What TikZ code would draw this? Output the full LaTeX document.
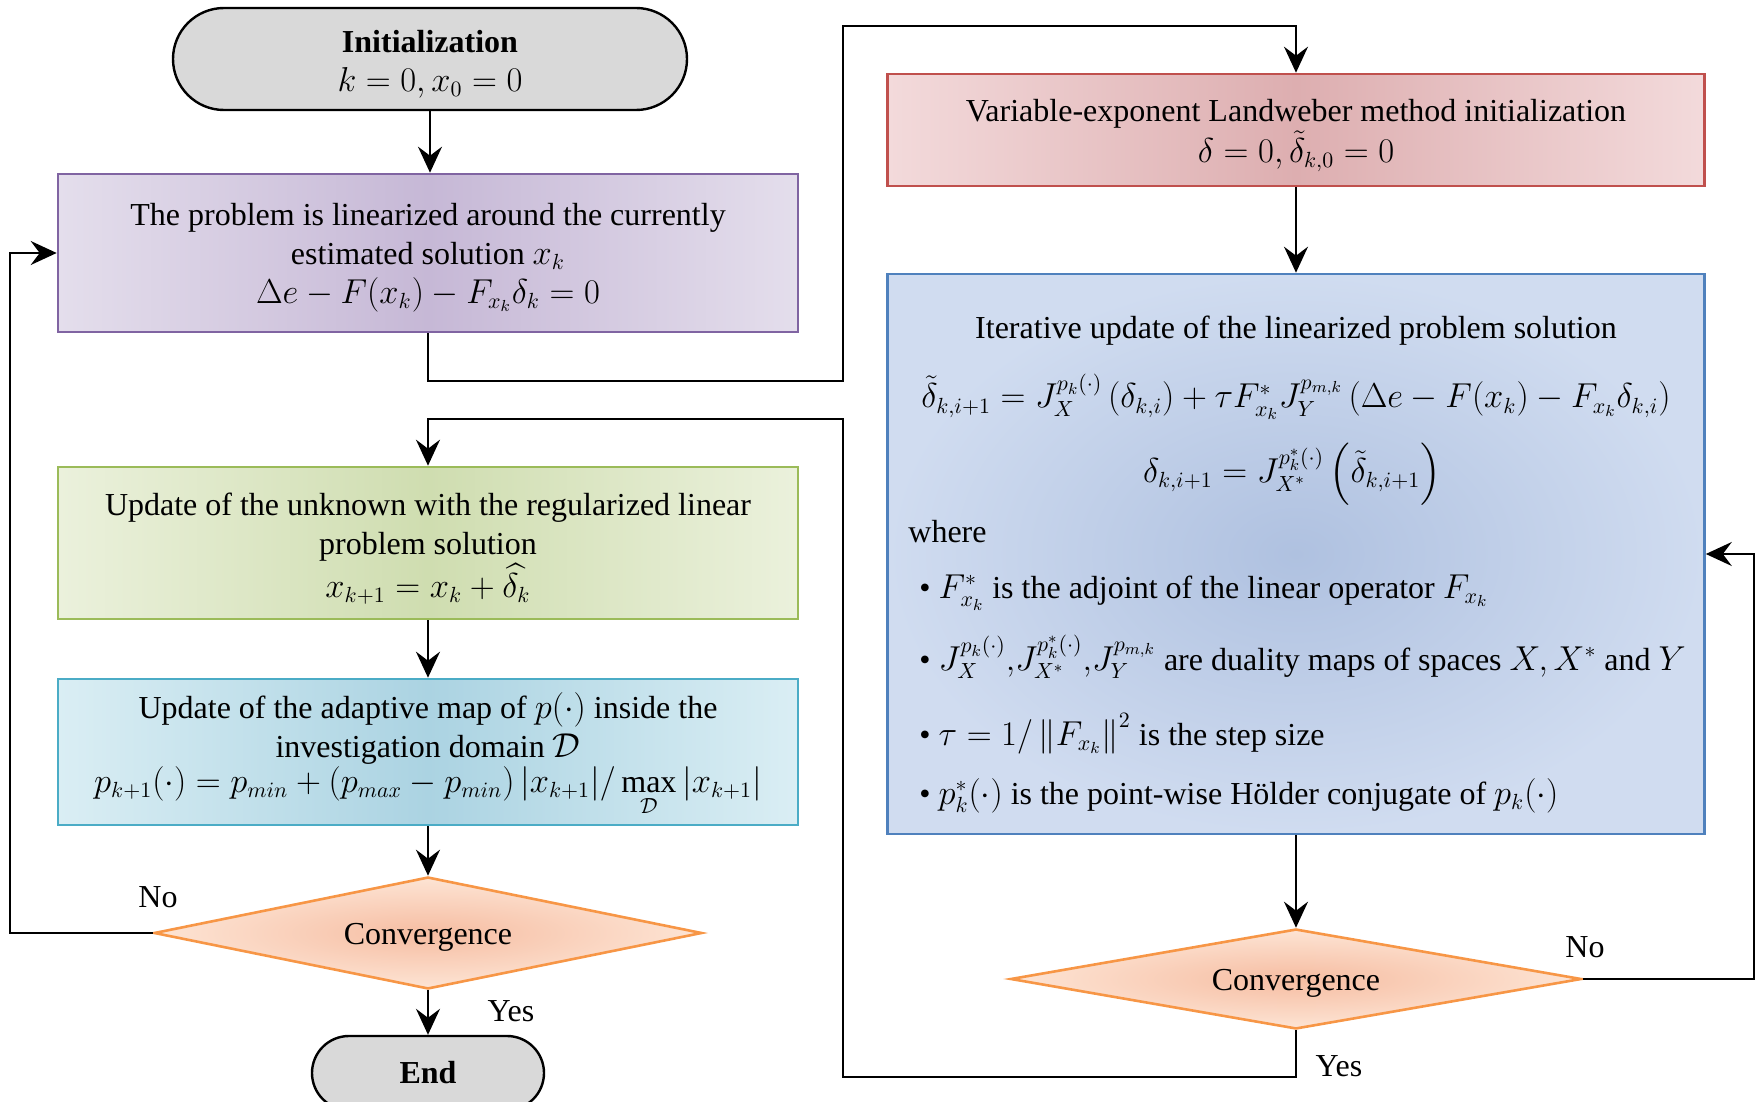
\documentclass[tikz,border=0pt]{standalone}
\usepackage{amsmath}
\usepackage{fontspec}
\setmainfont{Liberation Serif}
\usetikzlibrary{shapes.geometric,shapes.misc,arrows.meta}
\definecolor{purpD}{HTML}{8064A2}\definecolor{purpC}{HTML}{C6B8D6}\definecolor{purpE}{HTML}{E4DEEC}
\definecolor{grnD}{HTML}{9BBB59}\definecolor{grnC}{HTML}{CFDDB0}\definecolor{grnE}{HTML}{EBF1DC}
\definecolor{cyD}{HTML}{4BACC6}\definecolor{cyC}{HTML}{ABD3E2}\definecolor{cyE}{HTML}{DAEEF4}
\definecolor{redD}{HTML}{C0504D}\definecolor{redC}{HTML}{DDAEB0}\definecolor{redE}{HTML}{F3DADB}
\definecolor{bluD}{HTML}{4F81BD}\definecolor{bluC}{HTML}{AFC1E0}\definecolor{bluE}{HTML}{D0DCF0}
\definecolor{orD}{HTML}{F79646}\definecolor{orC}{HTML}{F6BDA2}\definecolor{orE}{HTML}{FDE4D4}
\definecolor{grayF}{HTML}{D9D9D9}
\newcommand{\upstrut}[1]{\rule{0pt}{#1}}
\begin{document}
\begin{tikzpicture}[x=0.5pt,y=-0.5pt,
  font=\fontsize{16}{19.5}\selectfont,
  term/.style={rounded rectangle, draw=black, line width=1.2pt, fill=grayF, align=center, inner sep=0pt},
  box/.style={rectangle, line width=1.3pt, align=center, inner sep=0pt},
  hbox/.style n args={3}{box, draw=#1, left color=#2, right color=#2, middle color=#3},
  rbox/.style n args={3}{box, draw=#1, inner color=#3, outer color=#2},
  dec/.style={diamond, draw=orD, line width=1.3pt, inner color=orC, outer color=orE, inner sep=0pt, aspect=5},
  conn/.style={-{Stealth[length=13pt,width=12pt,inset=4.5pt]}, line width=1pt},
  lbl/.style={inner sep=0pt}]
\useasboundingbox (0,0) rectangle (1758,1102);

% left column
\node[term, minimum width=257pt, minimum height=51pt] (init) at (430,59)
  {\upstrut{16pt}\textbf{Initialization}\\$k=0, x_0=0$};
\node[hbox={purpD}{purpE}{purpC}, minimum width=370pt, minimum height=79pt] (purple) at (428,253)
  {\upstrut{15.5pt}The problem is linearized around the currently\\estimated solution $x_k$\\$\Delta e-F(x_k)-F_{x_k}\delta_k=0$};
\node[hbox={grnD}{grnE}{grnC}, minimum width=370pt, minimum height=76pt] (green) at (428,543)
  {\upstrut{17pt}Update of the unknown with the regularized linear\\problem solution\\$x_{k+1}=x_k+\widehat{\delta_k}$};
\node[hbox={cyD}{cyE}{cyC}, minimum width=370pt, minimum height=73pt] (cyan) at (428,752)
  {\upstrut{16pt}Update of the adaptive map of $p(\cdot)$ inside the\\investigation domain $\mathcal{D}$\\[-2pt]$p_{k+1}(\cdot)=p_{min}+(p_{max}-p_{min})\,|x_{k+1}|/\max\limits_{\mathcal{D}}|x_{k+1}|$};
\node[dec, minimum width=274pt, minimum height=56pt] (dl) at (428,933) {\upstrut{14.5pt}Convergence};
\node[term, minimum width=116pt, minimum height=37pt] (endn) at (428,1073) {\textbf{End}};

% right column
\node[hbox={redD}{redE}{redC}, minimum width=408.5pt, minimum height=56pt] (red) at (1296,130)
  {\upstrut{17pt}Variable-exponent Landweber method initialization\\[1pt]$\delta=0,\tilde{\delta}_{k,0}=0$};
\node[rbox={bluD}{bluE}{bluC}, minimum width=408.5pt, minimum height=280pt] (blue) at (1296,554) {};
\node[lbl] (t1) at (1296,331) {Iterative update of the linearized problem solution};
\node[lbl] (t2) at (1296,397) {$\tilde{\delta}_{k,i+1}=J_X^{p_k(\cdot)}\left(\delta_{k,i}\right)+\tau F^*_{x_k}J_Y^{p_{m,k}}\left(\Delta e-F(x_k)-F_{x_k}\delta_{k,i}\right)$};
\node[lbl] (t3) at (1292,474) {$\delta_{k,i+1}=J_{X^*}^{p_k^*(\cdot)}\left(\tilde{\delta}_{k,i+1}\right)$};
\node[lbl, anchor=base west] (t4) at (908,542) {where};
\node[lbl, anchor=base west] (b1) at (919,598) {\textbullet\ $F^*_{x_k}$ is the adjoint of the linear operator $F_{x_k}$};
\node[lbl, anchor=base west] (b2) at (919,670) {\textbullet\ $J_X^{p_k(\cdot)}{,}J_{X^*}^{p_k^*(\cdot)}{,}J_Y^{p_{m,k}}$ are duality maps of spaces $X, X^*$ and $Y$};
\node[lbl, anchor=base west] (b3) at (919,745) {\textbullet\ $\tau=1/\left\|F_{x_k}\right\|^2$ is the step size};
\node[lbl, anchor=base west] (b4) at (919,804) {\textbullet\ $p_k^*(\cdot)$ is the point-wise Hölder conjugate of $p_k(\cdot)$};
\node[dec, minimum width=285.5pt, minimum height=50pt] (dr) at (1296,979) {\upstrut{14.5pt}Convergence};

% labels
\node[lbl] (no1) at (158,897) {No};
\node[lbl] (yes1) at (511,1011) {Yes};
\node[lbl] (no2) at (1585,947) {No};
\node[lbl] (yes2) at (1339,1066) {Yes};

\coordinate (bendA) at (843,26);
\coordinate (bendB) at (843,419);

% connectors
\draw[conn] (init.south) -- (init.south |- purple.north);
\draw[conn] (purple.south) -- ++(0,48) -| (bendA) -| (red.north);
\draw[conn] (red.south) -- (blue.north);
\draw[conn] (blue.south) -- (dr.north);
\draw[conn] (dr.east) -- ++(171,0) |- (blue.east);
\draw[conn] (dr.south) -- ++(0,47) -| (bendB) -| (green.north);
\draw[conn] (green.south) -- (cyan.north);
\draw[conn] (cyan.south) -- (dl.north);
\draw[conn] (dl.south) -- (endn.north);
\draw[conn] (dl.west) -- ++(-143,0) |- (purple.west);
\end{tikzpicture}
\end{document}
